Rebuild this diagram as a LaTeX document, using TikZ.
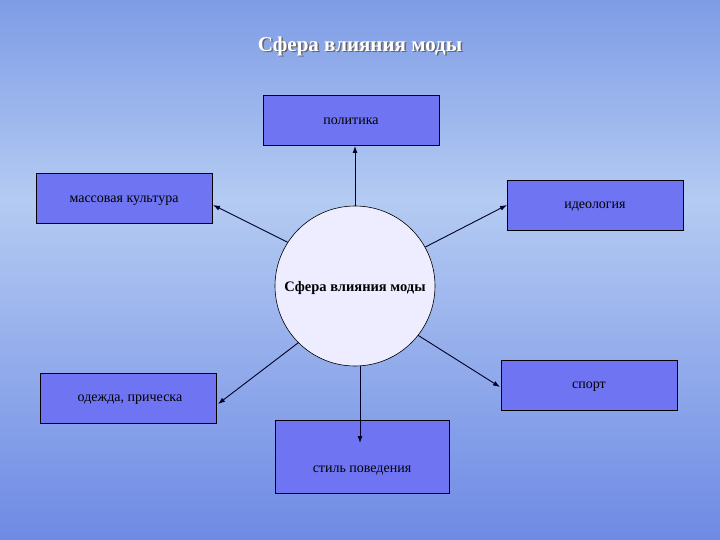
\documentclass[tikz,border=0pt]{standalone}
\usepackage{fontspec}
\setmainfont{Liberation Serif}
\newcommand{\shadowtext}[1]{\rlap{\hspace{1.5pt}\raisebox{-1.5pt}{\color{black!60}#1}}#1}
\begin{document}
\begin{tikzpicture}[x=1pt,y=-1pt,
  box/.style={draw=black,fill=boxblue,minimum width=176pt,minimum height=50pt,inner sep=0pt,line width=0.6pt},
  txt/.style={font=\fontsize{14}{16}\selectfont,inner sep=0pt},
  arr/.style={-{Latex[length=7pt,width=5pt]},line width=0.9pt,draw=black!85!blue}]
\usetikzlibrary{arrows.meta}
\definecolor{boxblue}{HTML}{6F74F2}
\definecolor{bgtop}{HTML}{7E9CE6}
\definecolor{bgmid}{HTML}{B4CBF2}
\definecolor{bgbot}{HTML}{6E8AE4}
\useasboundingbox (0,0) rectangle (720,540);
\shade[top color=bgtop,bottom color=bgmid] (0,0) rectangle (720,200);
\shade[top color=bgmid,bottom color=bgbot] (0,200) rectangle (720,540);
\node[font=\fontsize{21}{24}\selectfont\bfseries,text=white,inner sep=0pt] (t) at (360,47) {\shadowtext{Сфера влияния моды}};
\node[box] (p) at (351,120) {};
\node[txt] (pt) at (351,121) {политика};
\node[box] (m) at (124.5,198.5) {};
\node[txt] (mt) at (124,201) {массовая культура};
\node[box] (i) at (595,205) {};
\node[txt] (it) at (595,207) {идеология};
\node[box] (o) at (128.5,398.5) {};
\node[txt] (ot) at (130,400) {одежда, прическа};
\node[box] (s) at (589,385) {};
\node[txt] (st) at (589,387) {спорт};
\node[box,minimum width=174pt,minimum height=73pt] (b) at (362,456.5) {};
\node[txt] (bt) at (362,471) {стиль поведения};
\node[circle,draw=black,fill=blue!7,minimum size=160pt,inner sep=0pt,line width=0.6pt] (c) at (355,286) {};
\node[txt,font=\fontsize{14.5}{16}\selectfont\bfseries] (ct) at (355,288) {Сфера влияния моды};
\coordinate (pe) at (355,146);
\coordinate (me) at (213,205);
\coordinate (ie) at (507,205);
\coordinate (oe) at (218,404);
\coordinate (se) at (500,387);
\coordinate (bs) at (360,366);
\coordinate (be) at (360,443);
\draw[arr] (c.90) -- (pe);
\draw[arr] (c.147) -- (me);
\draw[arr] (c.29) -- (ie);
\draw[arr] (c.225) -- (oe);
\draw[arr] (c.322) -- (se);
\draw[arr] (bs) -- (be);
\end{tikzpicture}
\end{document}
